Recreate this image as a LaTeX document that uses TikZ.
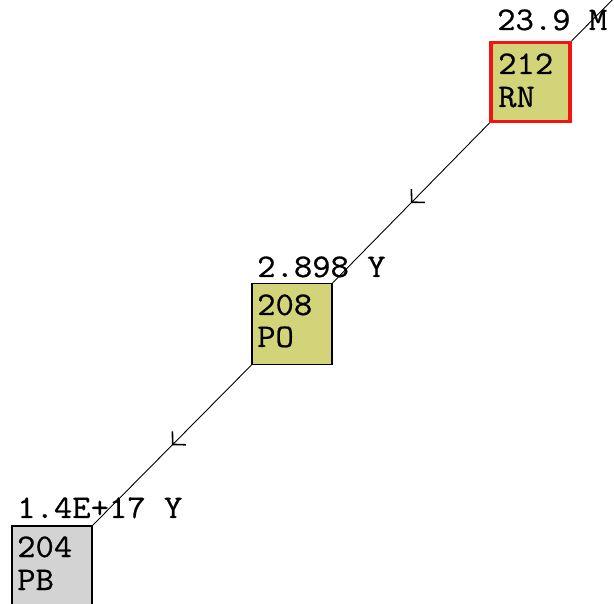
\documentclass[tikz,border=0pt]{standalone}
\usepackage{fontspec}
\newfontfamily\nucfont[FakeStretch=1.08,FakeBold=0.6]{Latin Modern Mono}
\usetikzlibrary{arrows.meta,decorations.markings}
\definecolor{nucfill}{RGB}{211,211,122}
\definecolor{stablefill}{RGB}{211,211,211}
\definecolor{parentred}{RGB}{240,20,20}
\tikzset{
  nuc/.style={draw=black, line width=1.2pt, minimum width=80pt, minimum height=81pt, inner sep=0pt, anchor=center},
  lbl/.style={font=\fontsize{33}{36}\selectfont\nucfont, anchor=base west, inner sep=0pt},
  decay/.style={draw=black, line width=0.9pt, postaction={decorate},
    decoration={markings, mark=at position 0.5 with {\arrow{Straight Barb[length=9pt,width=19pt,line width=1.6pt]}}}},
  feed/.style={draw=black, line width=0.9pt}
}
\begin{document}
\begin{tikzpicture}[x=1pt,y=-1pt]
\useasboundingbox (0,0) rectangle (614,604);
\clip (0,0) rectangle (614,604);
\fill[white] (0,0) rectangle (614,604);
% boxes
\node[nuc, fill=nucfill, draw=parentred, line width=3.2pt, minimum width=79pt, minimum height=79pt] (rn) at (530.5,82) {};
\node[nuc, fill=nucfill] (po) at (292,324) {};
\node[nuc, fill=stablefill, minimum height=90pt] (pb) at (52,571) {};
% connectors
\coordinate (top) at (634,-22);
\draw[feed] (rn.north east) -- (top);
\draw[decay] (rn.south west) -- (po.north east);
\draw[decay] (po.south west) -- (pb.north east);
% texts
\node[lbl] (rnhl) at (497,30) {23.9 M};
\node[lbl] (rnA) at (498,74) {212};
\node[lbl] (rnZ) at (498,107) {RN};
\node[lbl] (pohl) at (257,277) {2.898 Y};
\node[lbl] (poA) at (257,315) {208};
\node[lbl] (poZ) at (257,347) {PO};
\node[lbl] (pbhl) at (17,518) {1.4E+17 Y};
\node[lbl] (pbA) at (17,557) {204};
\node[lbl] (pbZ) at (17,590) {PB};
\end{tikzpicture}
\end{document}
